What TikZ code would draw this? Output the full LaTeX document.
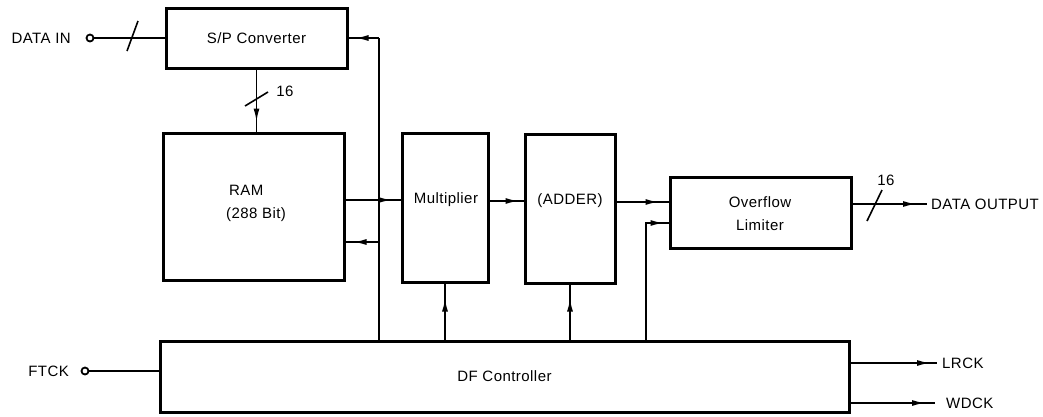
\documentclass[tikz,border=0pt]{standalone}
\usepackage{fontspec}
\setmainfont{Liberation Sans}[LetterSpace=3]
\usetikzlibrary{arrows.meta,decorations.markings}
\begin{document}
\begin{tikzpicture}[x=1pt,y=-1pt,
  box/.style={draw,line width=3pt,inner sep=0pt},
  conn/.style={line width=1.6pt},
  txt/.style={font=\fontsize{15}{23}\selectfont,inner sep=0pt,align=center},
  term/.style={circle,draw,line width=1.8pt,minimum size=7pt,inner sep=0pt},
  arrowat/.style={postaction={decorate,decoration={markings,mark=at position #1 with {\arrow{Latex[length=13pt,width=6pt]}}}}},
  slash/.style={line width=1.6pt}]
\useasboundingbox (0,0) rectangle (1043,416);
% blocks
\node[box,minimum width=181pt,minimum height=60pt,txt] (sp) at (256.5,38) {S/P Converter};
\node[box,minimum width=181pt,minimum height=147pt] (ram) at (253.5,206.5) {};
\node[txt,align=left] (ramt) at (256,203) {\hspace{3pt}RAM\\(288 Bit)};
\node[box,minimum width=86pt,minimum height=149pt] (mul) at (445,207.5) {};
\node[txt] (mult) at (446,200) {Multiplier};
\node[box,minimum width=90pt,minimum height=149pt] (add) at (570,208.5) {};
\node[txt] (addt) at (570,201) {(ADDER)};
\node[box,minimum width=181pt,minimum height=71pt] (ovf) at (760.5,212.5) {};
\node[txt] (ovft) at (760,214) {Overflow\\Limiter};
\node[box,minimum width=689pt,minimum height=71pt,txt] (dfc) at (504.5,376.5) {DF Controller};
% terminals and labels
\node[term] (din) at (90,38) {};
\node[txt,anchor=east] (dinl) at (71,38) {DATA IN};
\node[term] (ftck) at (85,371) {};
\node[txt,anchor=east] (ftckl) at (69,371) {FTCK};
\coordinate (dout) at (927,204);
\node[txt,anchor=west] (doutl) at (931,204) {DATA OUTPUT};
\coordinate (lr) at (937,363);
\node[txt,anchor=west] (lrl) at (942,363) {LRCK};
\coordinate (wd) at (935,403);
\node[txt,anchor=west] (wdl) at (946,403) {WDCK};
\coordinate (b1t) at (379,38);
\coordinate (b1r) at (379,242);
\coordinate (b2t) at (646,223);
% connectors
\draw[conn] (din) -- (din -| sp.west);
\draw[slash] (127,51) -- (138,21);
\draw[conn,arrowat=-10pt] (sp.south) -- (sp.south |- ram.north);
\draw[slash] (245,106) -- (268,92);
\node[txt] (n16a) at (285,91) {16};
\draw[conn] (b1t |- dfc.north) -- (b1t);
\draw[conn,arrowat=-7pt] (b1t) -- (sp.east);
\draw[conn,arrowat=-8pt] (b1r) -- (ram.east |- b1r);
\draw[conn,arrowat=-9pt] (ram.east |- 0,200) -- (mul.west |- 0,200);
\draw[conn,arrowat=-5pt] (mul.east |- 0,201) -- (add.west |- 0,201);
\draw[conn,arrowat=-10pt] (add.east |- 0,202) -- (ovf.west |- 0,202);
\draw[conn,arrowat=-5pt] (b2t |- dfc.north) -- (b2t) -- (ovf.west |- b2t);
\draw[conn,arrowat=-15pt] (mul.south |- dfc.north) -- (mul.south);
\draw[conn,arrowat=-14pt] (add.south |- dfc.north) -- (add.south);
\draw[conn,arrowat=-11pt] (ovf.east |- dout) -- (dout);
\draw[slash] (867,221) -- (882,190);
\node[txt] (n16b) at (886,180) {16};
\draw[conn] (ftck) -- (ftck -| dfc.west);
\draw[conn,arrowat=-7pt] (dfc.east |- lr) -- (lr);
\draw[conn,arrowat=-10pt] (dfc.east |- wd) -- (wd);
\end{tikzpicture}
\end{document}
